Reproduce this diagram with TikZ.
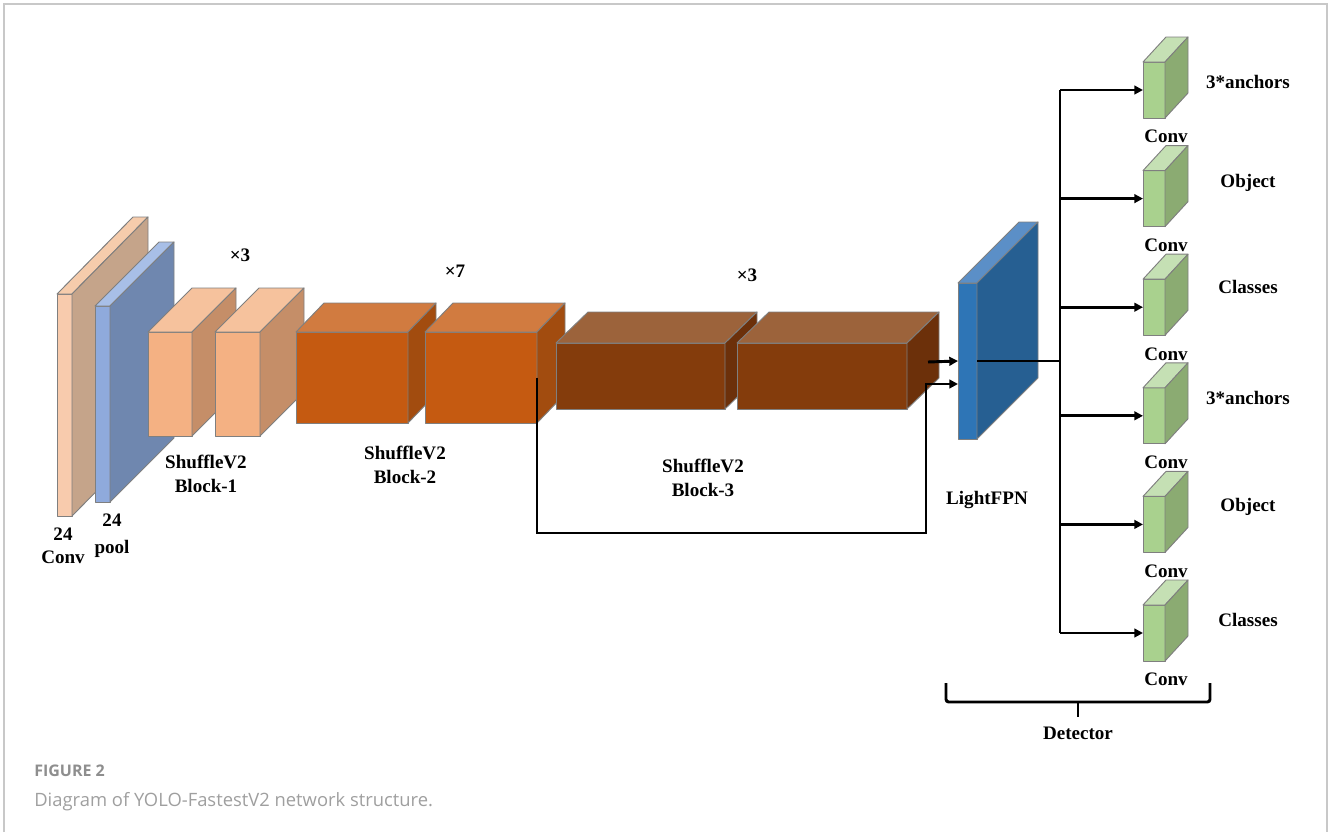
\documentclass[tikz,border=0pt]{standalone}
\usepackage{fontspec}
\setmainfont{Liberation Serif}
\newfontfamily\capfont{Open Sans}
\usetikzlibrary{arrows.meta,positioning}

\definecolor{edgegray}{HTML}{7F7F7F}
\definecolor{framegray}{HTML}{C8C8C8}
\definecolor{capgray}{HTML}{8E8E8E}
\definecolor{convF}{HTML}{F8CBAD}\definecolor{convT}{HTML}{F6CCAC}\definecolor{convS}{HTML}{C5A48A}
\definecolor{poolF}{HTML}{8FAADC}\definecolor{poolT}{HTML}{A8BFE7}\definecolor{poolS}{HTML}{6F87AF}
\definecolor{bAF}{HTML}{F4B183}\definecolor{bAT}{HTML}{F6C29D}\definecolor{bAS}{HTML}{C58E68}
\definecolor{bBF}{HTML}{C55A11}\definecolor{bBT}{HTML}{D17B40}\definecolor{bBS}{HTML}{A24C0F}
\definecolor{bCF}{HTML}{843C0C}\definecolor{bCT}{HTML}{9C633B}\definecolor{bCS}{HTML}{6C300A}
\definecolor{fpnF}{HTML}{2E75B6}\definecolor{fpnT}{HTML}{5B8FC7}\definecolor{fpnS}{HTML}{265F92}
\definecolor{detF}{HTML}{A9D18E}\definecolor{detT}{HTML}{C5E0B4}\definecolor{detS}{HTML}{8BAB72}

\tikzset{
  face/.style={draw=edgegray, line width=0.7pt, line join=round},
  front/.style={face, inner sep=0pt, outer sep=0pt, anchor=north west},
  lbl/.style={font=\fontsize{14.3}{17.5}\selectfont\bfseries, align=center, inner sep=0pt},
  wire/.style={line width=2.2pt},
  conn/.style={wire, -{Triangle[length=6.5pt,width=6.5pt]}}
}

% name, top-left, width, height, depth offset, front, top, side
\newcommand{\slab}[8]{%
  \node[front, fill=#6, minimum width=#3*0.75pt, minimum height=#4*0.75pt] (#1) at (#2) {};
  \filldraw[face, fill=#7] (#1.north west) -- ++(#5) -- ++(#3,0) -- (#1.north east) -- cycle;
  \filldraw[face, fill=#8] (#1.north east) -- ++(#5) -- ++(0,#4) -- (#1.south east) -- cycle;
}

\begin{document}
\begin{tikzpicture}[x=0.75pt, y=-0.75pt]
\useasboundingbox (0,0) rectangle (1328,832);
\draw[framegray, line width=1.1pt] (4,832) -- (4,4) -- (1327,4) -- (1327,832);

\slab{conv}{57,294}{15}{222}{76,-77}{convF}{convT}{convS}
\slab{pool}{95,306}{15}{196}{64,-64}{poolF}{poolT}{poolS}
\slab{b1a}{148,332}{44}{104}{44,-44}{bAF}{bAT}{bAS}
\slab{b1b}{215,332}{45}{104}{44,-44}{bAF}{bAT}{bAS}
\slab{b2a}{296,332}{112}{91}{28,-29}{bBF}{bBT}{bBS}
\slab{b2b}{425,332}{112}{91}{28,-29}{bBF}{bBT}{bBS}
\slab{b3a}{556,343}{169}{66}{32,-31}{bCF}{bCT}{bCS}
\slab{b3b}{737,343}{170}{66}{32,-31}{bCF}{bCT}{bCS}
\slab{fpn}{958,283}{19}{156}{61,-61}{fpnF}{fpnT}{fpnS}
\foreach \i in {1,...,6}{
  \slab{g\i}{1143,{62+108.6*(\i-1)}}{22}{56}{23,-25}{detF}{detT}{detS}
  \node[lbl, below=9pt of g\i.south, xshift=9pt] (gc\i) {Conv};
}

\node[lbl] (convtxt) at (63,546) {24\\Conv};
\node[lbl, font=\fontsize{14.3}{20}\selectfont\bfseries] (pooltxt) at (112,536) {24\\pool};
\node[lbl] (rep1) at (240,255) {×3};
\node[lbl] (rep2) at (455,271) {×7};
\node[lbl] (rep3) at (747,275) {×3};
\node[lbl] (blk1) at (206,474) {ShuffleV2\\Block-1};
\node[lbl] (blk2) at (405,465) {ShuffleV2\\Block-2};
\node[lbl] (blk3) at (703,478) {ShuffleV2\\Block-3};
\node[lbl] (fpntxt) at (987,500) {LightFPN};
\foreach \t/\y [count=\i] in {3*anchors/82, Object/183, Classes/287, 3*anchors/398, Object/507, Classes/620}
  \node[lbl] (out\i) at (1248,\y) {\t};

\coordinate (b3out) at (928,362);
\coordinate (fpnin) at (958,384);
\coordinate (trunk) at (1060,0);
\draw[conn] (b3out) -- (fpn.west);
\draw[conn] (b2b.east) |- (926,533) |- (fpnin);
\draw[wire] (fpn.east) -- (fpn.east -| trunk);
\draw[wire] (g1.west -| trunk) -- (g6.west -| trunk);
\foreach \i in {1,...,6}
  \draw[conn] (g\i.west -| trunk) -- (g\i.west);

\coordinate (brace) at (1078,717);
\draw[wire, rounded corners=2pt] (946,683) -- (946,702) -- (1210,702) -- (1210,683);
\draw[wire] (1078,702) -- (brace);
\node[lbl, below=7pt of brace] (det) {Detector};

\node[anchor=base west, inner sep=0pt, text=capgray, font=\capfont\bfseries\fontsize{12}{14}\selectfont] (fig) at (34,776) {FIGURE 2};
\node[anchor=base west, inner sep=0pt, text=capgray!85, font=\capfont\fontsize{13.8}{16}\selectfont] (caption) at (34,806) {Diagram of YOLO-FastestV2 network structure.};
\end{tikzpicture}
\end{document}
